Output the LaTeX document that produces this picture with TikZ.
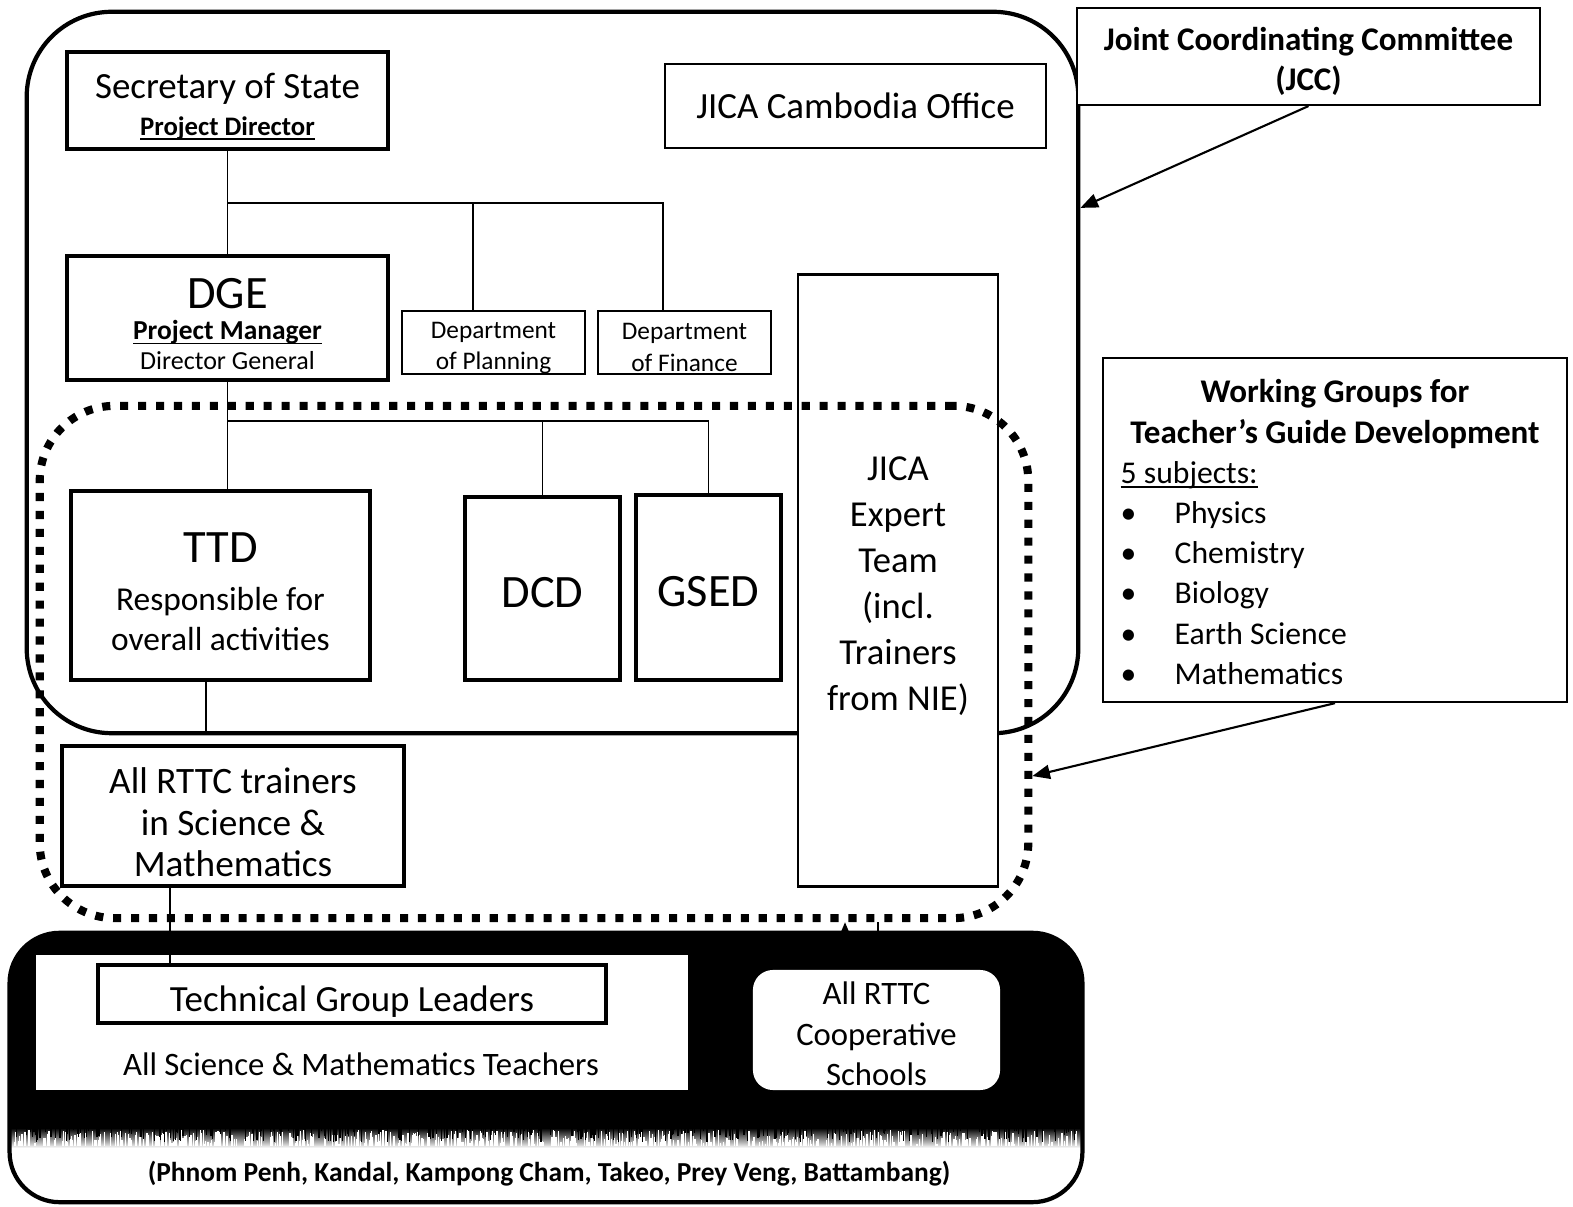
\documentclass[tikz,border=0pt]{standalone}
\usepackage{fontspec}
\setmainfont{Carlito}
\usetikzlibrary{arrows.meta,positioning,calc}

\newcommand{\fs}[2]{\fontsize{#1}{#2}\selectfont}
\newcommand{\ulbase}[1]{\setbox0\hbox{#1}\rlap{\rule[-1.3pt]{\wd0}{0.5pt}}\box0}
\newcommand{\topgap}[1]{\rule{0pt}{#1}}

\begin{document}
\begin{tikzpicture}[
  x=0.01cm, y=-0.01cm,
  every node/.style={font=\fs{10.5}{13}, align=center, inner sep=0pt},
  thickbox/.style={draw, line width=1.1pt, fill=white},
  thinbox/.style={draw, line width=0.6pt, fill=white},
  link/.style={line width=0.5pt},
  arr/.style={-{Triangle[length=5pt, width=4pt]}, line width=0.6pt},
  dotframe/.style={draw, line width=2.3pt, dash pattern=on 2.3pt off 2.8pt, rounded corners=0.75cm},
]
\useasboundingbox (0,0) rectangle (1573,1207);

%% ---- ministry frame --------------------------------------------------
\node[draw, line width=1.2pt, rounded corners=0.85cm,
  minimum width=10.51cm, minimum height=7.21cm] (outer) at (552.5,372.5) {};

\coordinate (bus1) at (228,203);
\coordinate (bus2) at (228,421);

\node[thickbox, minimum width=3.21cm, minimum height=0.97cm] (sec) at (227.5,100.5)
  {\topgap{10.8pt}Secretary of State\\[-2.5pt]{\fs{7.6}{9}\bfseries\ulbase{Project Director}}};
\node[thinbox, minimum width=3.81cm, minimum height=0.84cm] (office) at (855.5,106)
  {JICA Cambodia Office};
\node[thickbox, minimum width=3.21cm, minimum height=1.24cm, font=\fs{7.4}{8.5}] (dge) at (227.5,318)
  {{\topgap{12pt}\fs{13.2}{15}DGE}\\[0.5pt]{\fs{7.8}{9.5}\bfseries\ulbase{Project Manager}}\\Director General};
\node[thinbox, minimum width=1.83cm, minimum height=0.63cm, font=\fs{7.2}{9}] (plan) at (493.5,342.5)
  {\topgap{7.8pt}Department\\of Planning};
\node[thinbox, minimum width=1.73cm, minimum height=0.63cm, font=\fs{7.2}{9}] (fin) at (684.5,342.5)
  {\topgap{7.6pt}Department\\of Finance};

\draw[link] (sec) -- (dge);
\draw[link] (bus1) -| ([xshift=-0.205cm]plan.north);
\draw[link] (bus1) -| ([xshift=-0.215cm]fin.north);

%% ---- departments -------------------------------------------------------
\node[thickbox, minimum width=2.99cm, minimum height=1.89cm, font=\fs{9.5}{11.5}] (ttd) at (220.5,585.5)
  {{\topgap{12.2pt}\fs{13.2}{15}TTD}\\[2pt]Responsible for\\overall activities};
\node[thickbox, minimum width=1.55cm, minimum height=1.83cm, font=\fs{13.2}{15}] (dcd) at (542.5,588.5)
  {\topgap{10.8pt}DCD};
\node[thickbox, minimum width=1.45cm, minimum height=1.85cm, font=\fs{13.2}{15}] (gsed) at (708.5,587.5)
  {\topgap{10.8pt}GSED};

\draw[link] (dge.south) -- (dge.south |- ttd.north);
\draw[link] (bus2) -| (dcd.north);
\draw[link] (bus2) -| (gsed.north);
\draw[link] ([xshift=-0.145cm]ttd.south) -- ([xshift=-0.145cm]ttd.south |- outer.south);

\node[draw, line width=0.8pt, fill=white, minimum width=2cm, minimum height=6.11cm,
  font=\fs{10.4}{13.1}] (expert) at (898,580.5)
  {\topgap{10.1pt}JICA\\Expert\\Team\\(incl.\\Trainers\\from NIE)};

\node[thickbox, minimum width=3.42cm, minimum height=1.4cm, font=\fs{10.6}{11.8}] (rttc) at (233,816)
  {\topgap{11.1pt}All RTTC trainers\\in Science \&\\Mathematics};

%% ---- working groups (dotted) ---------------------------------------
\node[dotframe, minimum width=9.88cm, minimum height=5.12cm] (dots) at (534,662) {};

%% ---- committees on the right -----------------------------------------
\node[thinbox, minimum width=4.63cm, minimum height=0.97cm, font=\fs{9.4}{11.4}\bfseries] (jcc) at (1308.5,56.5)
  {\topgap{9.2pt}Joint Coordinating Committee\\(JCC)};
\node[thinbox, minimum width=4.64cm, minimum height=3.44cm] (wg) at (1335,530) {};
\node[font=\fs{9.4}{11.6}\bfseries] (wgtitle) at (1335,414)
  {Working Groups for\\Teacher's Guide Development};
\node[anchor=north west, align=left, font=\fs{9}{11.4}] (wglist) at (1120,461)
  {\ulbase{5 subjects:}\\
   \makebox[0.54cm][l]{\textbullet}Physics\\
   \makebox[0.54cm][l]{\textbullet}Chemistry\\
   \makebox[0.54cm][l]{\textbullet}Biology\\
   \makebox[0.54cm][l]{\textbullet}Earth Science\\
   \makebox[0.54cm][l]{\textbullet}Mathematics};

\draw[arr] (jcc.south) -- ([yshift=1.645cm]outer.east);
\draw[arr] (wg.south) -- ([yshift=-1.14cm]dots.east);

%% ---- schools (black band) --------------------------------------------
\node[draw, fill=black, line width=1.2pt, rounded corners=0.5cm,
  minimum width=10.68cm, minimum height=2.65cm] (base) at (546,1067.5) {};
\begin{scope}
  \clip[rounded corners=0.5cm] (base.south west) rectangle (base.north east);
  \shade[top color=black, bottom color=white] (base.west |- 0,1128) rectangle (base.east |- 0,1148);
  \fill[white] (base.west |- 0,1148) rectangle (base.south east);
  % ragged edge
  \pgfmathsetseed{7}
  \foreach \i in {1,...,600} {
    \pgfmathsetmacro\xx{14+rnd*1064}
    \pgfmathsetmacro\hh{2+rnd*14}
    \fill[white] (\xx,1146) rectangle ++(1.3,-\hh);
  }
  \foreach \i in {1,...,300} {
    \pgfmathsetmacro\xx{14+rnd*1064}
    \pgfmathsetmacro\hh{2+rnd*12}
    \fill[black] (\xx,1128) rectangle ++(1.2,\hh);
  }
\end{scope}
\draw[line width=1.2pt, rounded corners=0.5cm] (base.south west) rectangle (base.north east);

\node[fill=white, minimum width=6.52cm, minimum height=1.35cm] (teach) at (362,1022.5) {};
\node[thickbox, minimum width=5.08cm, minimum height=0.58cm] (tgl) at (352,994)
  {\topgap{11.6pt}Technical Group Leaders};
\node[font=\fs{9.3}{11}] (allteach) at (361,1064) {All Science \& Mathematics Teachers};
\node[fill=white, rounded corners=0.2cm, minimum width=2.47cm, minimum height=1.2cm,
  font=\fs{9.3}{11.5}] (coop) at (876.5,1030) {\topgap{8.8pt}All RTTC\\Cooperative\\Schools};
\node[font=\fs{7.8}{9}\bfseries] (prov) at (549,1174)
  {(Phnom Penh, Kandal, Kampong Cham, Takeo, Prey Veng, Battambang)};

\draw[link] ([xshift=-0.63cm]rttc.south) -- ([xshift=-0.63cm]rttc.south |- tgl.north);
\draw[arr] (base.north -| 845,0) -- (dots.south -| 845,0);
\draw[link] (base.north -| 878,0) -- (dots.south -| 878,0);

\end{tikzpicture}
\end{document}
